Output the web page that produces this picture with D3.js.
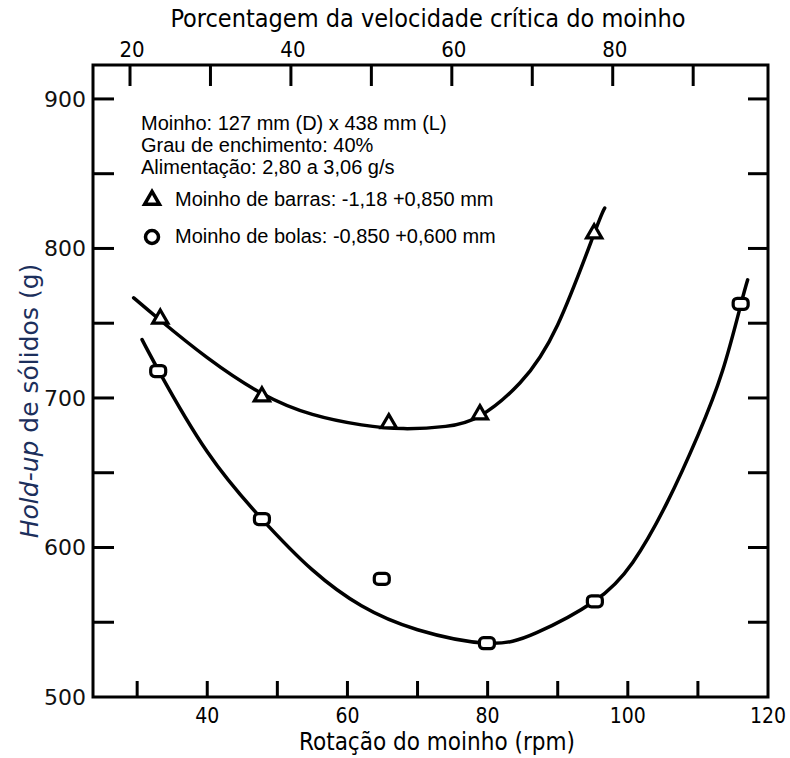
<!DOCTYPE html>
<html>
<head>
<meta charset="utf-8">
<script src="https://cdn.jsdelivr.net/npm/d3@7"></script>
<style>
  body { margin: 0; background: #fff; }
  svg text { fill: #000; }
  .narrow { font-family: "Liberation Sans Narrow", "DejaVu Sans Condensed", "Arial Narrow", sans-serif; }
  .wide { font-family: "DejaVu Sans", Verdana, sans-serif; }
  .note { font-family: "Liberation Sans", Arial, sans-serif; }
</style>
</head>
<body>
<div id="chart"></div>
<script>
// measured points (rpm, hold-up g)
const barRpm = [33.3, 47.8, 65.9, 78.9, 95.2];
const barHold = [753, 701, 683, 689, 810];
const ballRpm = [33.0, 47.8, 64.9, 79.9, 95.3, 116.1];
const ballHold = [718, 619, 579, 536, 564, 763];

// fitted curves
const barFitRpm = [29.5, 33.3, 40, 47.8, 55, 62, 68, 74, 78.9, 84.6, 90, 95.2, 96.7];
const barFitHold = [767, 752, 727, 703, 689, 682, 679.5, 681, 688, 710, 749, 810, 827];
const ballFitRpm = [30.7, 33.1, 40, 47.8, 55, 62, 70, 79.9, 87, 95.2, 100.7, 105.6, 110, 113.5, 116.1, 117.1];
const ballFitHold = [739, 718, 664, 619, 585, 561, 545, 536, 543, 564, 590, 630, 675, 718, 762, 779];

const bottomTicks = [30, 40, 50, 60, 70, 80, 90, 100, 110];
const bottomLabels = [40, 60, 80, 100, 120];
const topTicks = [20, 30, 40, 50, 60, 70, 80, 90];
const topLabels = [20, 40, 60, 80];
const yTicks = [550, 600, 650, 700, 750, 800, 850, 900];
const yLabels = [500, 600, 700, 800, 900];

const noteLines = ["Moinho: 127 mm (D) x 438 mm (L)", "Grau de enchimento: 40%", "Alimentação: 2,80 a 3,06 g/s"];
const legendItems = [
  {shape: "triangle", label: "Moinho de barras: -1,18 +0,850 mm"},
  {shape: "circle", label: "Moinho de bolas: -0,850 +0,600 mm"}
];

const width = 790, height = 758;
const plotL = 93, plotR = 768, plotT = 65, plotB = 697;

const svg = d3.select("#chart").append("svg")
  .attr("width", width).attr("height", height);

const x = d3.scaleLinear().domain([23.7, 120]).range([plotL, plotR]);
const xTop = d3.scaleLinear().domain([15.4, 99.3]).range([plotL, plotR]);
const y = d3.scaleLinear().domain([500, 922.7]).range([plotB, plotT]);

const tickLen = 19;

// frame
svg.append("rect")
  .attr("x", plotL).attr("y", plotT)
  .attr("width", plotR - plotL).attr("height", plotB - plotT)
  .attr("fill", "none").attr("stroke", "#000").attr("stroke-width", 3);

// inward ticks
const tickG = svg.append("g").attr("stroke", "#000").attr("stroke-width", 3);
tickG.selectAll(".bt").data(bottomTicks).join("line")
  .attr("x1", d => x(d)).attr("x2", d => x(d))
  .attr("y1", plotB).attr("y2", plotB - tickLen + 3);
tickG.selectAll(".tt").data(topTicks).join("line")
  .attr("x1", d => xTop(d)).attr("x2", d => xTop(d))
  .attr("y1", plotT).attr("y2", plotT + tickLen + 2);
tickG.selectAll(".lt").data(yTicks).join("line")
  .attr("x1", plotL).attr("x2", plotL + tickLen + 2)
  .attr("y1", d => y(d)).attr("y2", d => y(d));
tickG.selectAll(".rt").data(yTicks).join("line")
  .attr("x1", plotR).attr("x2", plotR - tickLen - 1)
  .attr("y1", d => y(d)).attr("y2", d => y(d));

// tick labels
svg.selectAll(".bl").data(bottomLabels).join("text")
  .attr("class", "narrow")
  .attr("x", d => x(d)).attr("y", 723)
  .attr("text-anchor", "middle").attr("font-size", 21)
  .text(d => d);
svg.selectAll(".tl").data(topLabels).join("text")
  .attr("class", "narrow")
  .attr("x", d => xTop(d) + 2).attr("y", 57)
  .attr("text-anchor", "middle").attr("font-size", 22)
  .text(d => d);
svg.selectAll(".yl").data(yLabels).join("text")
  .attr("class", "wide")
  .attr("x", 86).attr("y", d => y(d) + 8)
  .attr("text-anchor", "end").attr("font-size", 22)
  .style("fill", "#111")
  .text(d => d);

// axis titles
svg.append("text").attr("class", "narrow")
  .attr("x", 428).attr("y", 27)
  .attr("text-anchor", "middle").attr("font-size", 25)
  .text("Porcentagem da velocidade crítica do moinho");
svg.append("text").attr("class", "narrow")
  .attr("x", 437).attr("y", 750)
  .attr("text-anchor", "middle").attr("font-size", 24)
  .text("Rotação do moinho (rpm)");
const yTitle = svg.append("text").attr("class", "wide")
  .attr("transform", "translate(38,401) rotate(-90)")
  .attr("text-anchor", "middle").attr("font-size", 25)
  .style("fill", "#1c2f5c");
yTitle.append("tspan").attr("font-style", "italic").style("fill", "#1c2f5c").text("Hold-up");
yTitle.append("tspan").style("fill", "#1c2f5c").text(" de sólidos (g)");

// fitted curves
const line = d3.line().x(d => x(d[0])).y(d => y(d[1])).curve(d3.curveNatural);
const curves = [d3.zip(barFitRpm, barFitHold), d3.zip(ballFitRpm, ballFitHold)];
svg.selectAll(".fit").data(curves).join("path")
  .attr("d", line)
  .attr("fill", "none").attr("stroke", "#000").attr("stroke-width", 3.5)
  .attr("stroke-linecap", "round");

// markers
const tri = d3.symbol().type(d3.symbolTriangle).size(100);
svg.selectAll(".bar").data(d3.zip(barRpm, barHold)).join("path")
  .attr("transform", d => "translate(" + x(d[0]) + "," + y(d[1]) + ")")
  .attr("d", tri)
  .attr("fill", "#fff").attr("stroke", "#000").attr("stroke-width", 3.2);
svg.selectAll(".ball").data(d3.zip(ballRpm, ballHold)).join("rect")
  .attr("x", d => x(d[0]) - 7.5).attr("y", d => y(d[1]) - 5.5)
  .attr("width", 15).attr("height", 11).attr("rx", 4)
  .attr("fill", "#fff").attr("stroke", "#000").attr("stroke-width", 3.2);

// notes and legend
svg.selectAll(".note-line").data(noteLines).join("text")
  .attr("class", "note")
  .attr("x", 141).attr("y", (d, i) => 130 + i * 22)
  .attr("font-size", 20)
  .text(d => d);

const leg = svg.selectAll(".leg").data(legendItems).join("g")
  .attr("transform", (d, i) => "translate(152," + (200 + i * 37) + ")");
leg.each(function(d) {
  const g = d3.select(this);
  if (d.shape === "triangle") {
    g.append("path").attr("d", d3.symbol().type(d3.symbolTriangle).size(95))
      .attr("fill", "#fff").attr("stroke", "#000").attr("stroke-width", 3.5);
  } else {
    g.append("ellipse").attr("rx", 6.5).attr("ry", 6.5)
      .attr("fill", "#fff").attr("stroke", "#000").attr("stroke-width", 3.5);
  }
});
leg.append("text").attr("class", "note")
  .attr("x", 23).attr("y", 6)
  .attr("font-size", 20)
  .text(d => d.label);
</script>
</body>
</html>
